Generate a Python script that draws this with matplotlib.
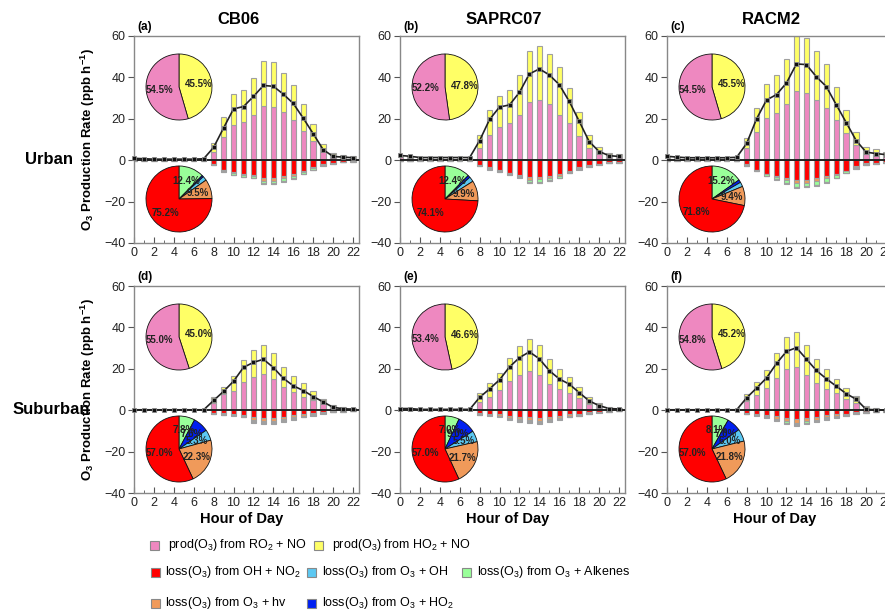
import numpy as np
import matplotlib
matplotlib.use('Agg')
import matplotlib.pyplot as plt
from matplotlib.patches import Rectangle

plt.rcParams['font.family'] = 'Liberation Sans'
plt.rcParams['mathtext.fontset'] = 'custom'
plt.rcParams['mathtext.rm'] = 'Liberation Sans'
plt.rcParams['mathtext.bf'] = 'Liberation Sans:bold'

hours = np.arange(23)

# Urban, CB06
a_ro2 = [0.6, 0.5, 0.4, 0.4, 0.4, 0.4, 0.4, 0.5, 4.2, 11.0, 17.1, 18.5, 21.6, 26.2, 25.9, 23.2, 19.6, 14.3, 9.2, 4.5, 2.1, 1.3, 1.0]
a_ho2 = [0.5, 0.4, 0.3, 0.3, 0.3, 0.3, 0.3, 0.4, 4.3, 10.1, 14.8, 15.5, 18.0, 21.5, 21.4, 19.0, 16.8, 12.8, 8.2, 3.2, 1.6, 1.3, 1.0]
a_oh_no2 = [0.1, 0.1, 0.1, 0.1, 0.1, 0.1, 0.1, 0.1, 1.9, 4.6, 5.9, 6.6, 7.0, 8.6, 8.5, 7.6, 6.8, 5.2, 3.5, 1.9, 1.3, 0.8, 0.6]
a_hv = [0, 0, 0, 0, 0, 0, 0, 0, 0.1, 0.3, 0.5, 0.6, 0.8, 1.3, 1.4, 1.2, 0.9, 0.6, 0.3, 0.1, 0.1, 0, 0]
a_alk = [0.1, 0.1, 0.1, 0.1, 0.1, 0.1, 0.1, 0.1, 0.2, 0.5, 0.6, 0.7, 0.7, 1.3, 1.3, 1.1, 1.0, 0.8, 0.7, 0.5, 0.4, 0.3, 0.2]
a_o3oh = [0, 0, 0, 0, 0, 0, 0, 0, 0.1, 0.1, 0.1, 0.1, 0.2, 0.3, 0.3, 0.3, 0.2, 0.1, 0.1, 0.1, 0.1, 0, 0]
a_o3ho2 = [0, 0, 0, 0, 0, 0, 0, 0, 0, 0, 0, 0.1, 0.1, 0.1, 0.1, 0.1, 0.1, 0.1, 0, 0, 0, 0, 0]

# Urban, SAPRC07
b_ro2 = [1.5, 1.2, 0.8, 0.8, 0.8, 0.8, 0.8, 0.8, 5.8, 12.1, 16.1, 17.9, 21.7, 28.2, 29.1, 27.1, 21.9, 17.9, 11.8, 6.0, 3.7, 2.1, 1.8]
b_ho2 = [1.2, 1.0, 0.7, 0.7, 0.7, 0.7, 0.7, 0.7, 6.3, 12.1, 15.1, 15.9, 19.5, 24.5, 26.0, 24.1, 23.3, 16.9, 11.5, 6.2, 2.6, 1.6, 1.2]
b_oh_no2 = [0.3, 0.2, 0.1, 0.1, 0.1, 0.1, 0.1, 0.1, 2.3, 3.5, 4.8, 6.0, 7.1, 8.1, 7.9, 7.4, 6.8, 5.2, 3.5, 2.3, 1.6, 1.1, 0.9]
b_hv = [0, 0, 0, 0, 0, 0, 0, 0, 0.1, 0.3, 0.2, 0.4, 0.5, 1.3, 1.4, 1.1, 0.7, 0.4, 0.3, 0.2, 0.1, 0.1, 0.1]
b_alk = [0.1, 0.1, 0.1, 0.1, 0.1, 0.1, 0.1, 0.1, 0.2, 0.5, 0.4, 0.5, 0.6, 1.2, 1.3, 1.1, 0.9, 0.6, 0.5, 0.5, 0.3, 0.2, 0.2]
b_o3oh = [0, 0, 0, 0, 0, 0, 0, 0, 0, 0.1, 0.1, 0.1, 0.1, 0.3, 0.3, 0.3, 0.2, 0.1, 0.1, 0.1, 0.1, 0.1, 0]
b_o3ho2 = [0, 0, 0, 0, 0, 0, 0, 0, 0, 0.1, 0, 0.1, 0.1, 0.1, 0.1, 0.1, 0.1, 0.1, 0.1, 0.1, 0, 0, 0]

# Urban, RACM2
c_ro2 = [1.2, 0.9, 0.7, 0.7, 0.7, 0.7, 0.7, 0.9, 5.7, 13.4, 20.5, 22.9, 27.3, 33.2, 32.7, 28.9, 25.3, 19.5, 13.2, 7.4, 3.1, 2.5, 2.2]
c_ho2 = [1.0, 0.8, 0.7, 0.7, 0.7, 0.7, 0.7, 0.8, 5.2, 11.9, 16.4, 18.2, 21.4, 26.6, 26.5, 23.7, 21.1, 16.1, 11.2, 6.2, 3.1, 2.7, 2.0]
c_oh_no2 = [0.2, 0.1, 0.1, 0.1, 0.1, 0.1, 0.1, 0.2, 2.0, 4.6, 6.5, 7.7, 8.5, 9.8, 9.4, 8.8, 7.8, 6.7, 5.0, 3.0, 1.5, 1.3, 1.0]
c_hv = [0, 0, 0, 0, 0, 0, 0, 0, 0.1, 0.1, 0.3, 0.5, 1.0, 1.4, 1.4, 1.3, 1.0, 0.6, 0.3, 0.2, 0.1, 0.1, 0.1]
c_alk = [0.1, 0.1, 0.1, 0.1, 0.1, 0.1, 0.1, 0.1, 0.6, 0.5, 0.8, 1.0, 1.4, 1.6, 1.7, 1.7, 1.6, 1.2, 0.8, 0.8, 0.6, 0.5, 0.4]
c_o3oh = [0, 0, 0, 0, 0, 0, 0, 0, 0.1, 0.1, 0.1, 0.1, 0.3, 0.3, 0.3, 0.3, 0.2, 0.2, 0.1, 0.1, 0.1, 0.1, 0]
c_o3ho2 = [0, 0, 0, 0, 0, 0, 0, 0, 0, 0, 0.1, 0.1, 0.2, 0.2, 0.2, 0.2, 0.2, 0.1, 0, 0, 0, 0, 0]

# Suburban, CB06
d_ro2 = [0.2, 0.2, 0.2, 0.2, 0.2, 0.2, 0.2, 0.2, 3.7, 7.7, 9.3, 13.4, 16.1, 17.4, 15.0, 11.4, 8.7, 6.6, 5.0, 3.5, 1.8, 0.9, 0.6]
d_ho2 = [0.1, 0.1, 0.1, 0.1, 0.1, 0.1, 0.1, 0.1, 2.9, 3.7, 7.3, 10.8, 13.0, 14.0, 12.4, 9.5, 7.6, 6.4, 4.2, 2.1, 0.6, 0.6, 0.4]
d_oh_no2 = [0.1, 0.1, 0.1, 0.1, 0.1, 0.1, 0.1, 0.1, 1.2, 1.4, 1.6, 2.2, 3.4, 3.8, 3.8, 3.1, 2.5, 2.0, 1.5, 1.0, 0.6, 0.4, 0.3]
d_hv = [0, 0, 0, 0, 0, 0, 0, 0, 0.2, 0.4, 0.5, 0.7, 1.3, 1.5, 1.5, 1.2, 1.0, 0.8, 0.5, 0.3, 0.1, 0.1, 0]
d_alk = [0, 0, 0, 0, 0, 0, 0, 0, 0.3, 0.3, 0.2, 0.3, 0.5, 0.5, 0.5, 0.4, 0.4, 0.3, 0.3, 0.2, 0.2, 0.2, 0.1]
d_o3oh = [0, 0, 0, 0, 0, 0, 0, 0, 0.1, 0.1, 0.1, 0.1, 0.3, 0.4, 0.4, 0.3, 0.2, 0.2, 0.1, 0, 0, 0, 0]
d_o3ho2 = [0, 0, 0, 0, 0, 0, 0, 0, 0.1, 0.1, 0.2, 0.2, 0.5, 0.6, 0.6, 0.5, 0.4, 0.2, 0.2, 0.1, 0.1, 0.1, 0.1]

# Suburban, SAPRC07
e_ro2 = [0.5, 0.5, 0.3, 0.3, 0.3, 0.3, 0.3, 0.3, 4.2, 6.6, 9.8, 14.0, 16.9, 18.8, 16.9, 12.6, 10.3, 8.1, 5.8, 3.2, 2.1, 1.0, 0.7]
e_ho2 = [0.4, 0.4, 0.2, 0.2, 0.2, 0.2, 0.2, 0.2, 4.3, 6.4, 8.1, 11.4, 14.0, 15.5, 14.7, 12.0, 9.5, 8.0, 5.6, 3.2, 1.3, 0.6, 0.4]
e_oh_no2 = [0.1, 0.1, 0.1, 0.1, 0.1, 0.1, 0.1, 0.1, 1.4, 1.6, 1.9, 2.6, 3.1, 3.5, 3.9, 3.1, 2.7, 2.0, 1.7, 1.1, 0.7, 0.5, 0.3]
e_hv = [0, 0, 0, 0, 0, 0, 0, 0, 0.4, 0.5, 0.7, 1.0, 1.2, 1.3, 1.5, 1.2, 1.0, 0.8, 0.6, 0.4, 0.2, 0.1, 0.1]
e_alk = [0, 0, 0, 0, 0, 0, 0, 0, 0.3, 0.3, 0.3, 0.3, 0.4, 0.4, 0.4, 0.4, 0.3, 0.3, 0.3, 0.2, 0.2, 0.1, 0.1]
e_o3oh = [0, 0, 0, 0, 0, 0, 0, 0, 0.1, 0.1, 0.1, 0.3, 0.3, 0.4, 0.4, 0.3, 0.3, 0.2, 0.1, 0.1, 0, 0, 0]
e_o3ho2 = [0, 0, 0, 0, 0, 0, 0, 0, 0.1, 0.2, 0.2, 0.3, 0.5, 0.5, 0.6, 0.5, 0.4, 0.2, 0.2, 0.1, 0.1, 0.1, 0]

# Suburban, RACM2
f_ro2 = [0.1, 0.1, 0.1, 0.1, 0.1, 0.1, 0.1, 0.1, 4.3, 7.5, 10.7, 15.5, 19.9, 21.0, 17.0, 13.1, 10.4, 8.3, 5.6, 3.5, 1.2, 0.8, 0.5]
f_ho2 = [0.1, 0.1, 0.1, 0.1, 0.1, 0.1, 0.1, 0.1, 3.7, 5.9, 8.5, 12.3, 15.4, 16.9, 14.6, 11.8, 9.3, 6.9, 5.2, 3.5, 0.6, 0.4, 0.3]
f_oh_no2 = [0, 0, 0, 0, 0, 0, 0, 0, 1.3, 1.6, 2.1, 3.0, 3.9, 4.4, 3.9, 3.2, 2.5, 2.0, 1.6, 1.0, 0.8, 0.6, 0.5]
f_hv = [0, 0, 0, 0, 0, 0, 0, 0, 0.3, 0.5, 0.7, 1.1, 1.5, 1.7, 1.5, 1.3, 1.0, 0.8, 0.6, 0.3, 0.2, 0.1, 0.1]
f_alk = [0, 0, 0, 0, 0, 0, 0, 0, 0.2, 0.3, 0.4, 0.5, 0.6, 0.6, 0.6, 0.5, 0.4, 0.3, 0.3, 0.2, 0.2, 0.2, 0.1]
f_o3oh = [0, 0, 0, 0, 0, 0, 0, 0, 0.1, 0.1, 0.2, 0.3, 0.4, 0.4, 0.4, 0.3, 0.3, 0.2, 0.1, 0.1, 0.1, 0, 0]
f_o3ho2 = [0, 0, 0, 0, 0, 0, 0, 0, 0.1, 0.2, 0.2, 0.3, 0.5, 0.6, 0.5, 0.4, 0.3, 0.3, 0.2, 0.1, 0.1, 0.1, 0.1]

# pie shares (%): production [HO2+NO, RO2+NO]; loss [alkenes, O3+HO2, O3+OH, hv, OH+NO2]
prod_pie = {'a': [45.5, 54.5], 'b': [47.8, 52.2], 'c': [45.5, 54.5],
            'd': [45.0, 55.0], 'e': [46.6, 53.4], 'f': [45.2, 54.8]}
loss_pie = {'a': [12.4, 0.8, 2.1, 9.5, 75.2], 'b': [12.4, 1.2, 2.4, 9.9, 74.1],
            'c': [15.2, 1.4, 2.2, 9.4, 71.8], 'd': [7.8, 7.6, 5.3, 22.3, 57.0],
            'e': [7.0, 9.0, 5.5, 21.7, 57.0], 'f': [8.1, 7.0, 6.0, 21.8, 57.0]}

mechanisms = ['CB06', 'SAPRC07', 'RACM2']

PINK = '#EE88C0'
YELLOW = '#FFFF66'
RED = '#FF0000'
LBLUE = '#5CC8F2'
GREEN = '#99FF99'
ORANGE = '#F09A5A'
BLUE = '#0020F0'
EDGE = '#A0A0A0'

W, H = 885, 610
fig = plt.figure(figsize=(W / 100, H / 100), dpi=100)

lefts = [134, 400, 667]
tops = [36, 286]
ax_w, ax_h = 225, 207

data = {
    'a': (a_ro2, a_ho2, a_oh_no2, a_hv, a_alk, a_o3oh, a_o3ho2),
    'b': (b_ro2, b_ho2, b_oh_no2, b_hv, b_alk, b_o3oh, b_o3ho2),
    'c': (c_ro2, c_ho2, c_oh_no2, c_hv, c_alk, c_o3oh, c_o3ho2),
    'd': (d_ro2, d_ho2, d_oh_no2, d_hv, d_alk, d_o3oh, d_o3ho2),
    'e': (e_ro2, e_ho2, e_oh_no2, e_hv, e_alk, e_o3oh, e_o3ho2),
    'f': (f_ro2, f_ho2, f_oh_no2, f_hv, f_alk, f_o3oh, f_o3ho2),
}
keys = [['a', 'b', 'c'], ['d', 'e', 'f']]


def fig_box(x, y, w, h):
    return [x / W, 1 - (y + h) / H, w / W, h / H]


for r in range(2):
    for c in range(3):
        k = keys[r][c]
        ro2, ho2, oh_no2, hv, alk, o3oh, o3ho2 = [np.array(v, dtype=float) for v in data[k]]
        ax = fig.add_axes(fig_box(lefts[c], tops[r], ax_w, ax_h))
        bw = 0.55
        ax.bar(hours, ro2, bw, color=PINK, edgecolor=EDGE, linewidth=0.8, zorder=2)
        ax.bar(hours, ho2, bw, bottom=ro2, color=YELLOW, edgecolor=EDGE, linewidth=0.8, zorder=2)
        cum = np.zeros(len(hours))
        for arr, col in [(oh_no2, RED), (hv, ORANGE), (alk, GREEN), (o3oh, LBLUE), (o3ho2, BLUE)]:
            ax.bar(hours, -arr, bw, bottom=-cum, color=col, edgecolor=EDGE, linewidth=0.8, zorder=2)
            cum = cum + arr
        net = ro2 + ho2 - cum
        ax.axhline(0, color='#222222', lw=1.4, zorder=3)
        ax.plot(hours, net, color='#222222', lw=1.2, marker='s', ms=3.2,
                mfc='#111111', mec='#888888', mew=0.6, zorder=4, clip_on=False)
        ax.set_xlim(0, 22.6)
        ax.set_ylim(-40, 60)
        ax.set_xticks(range(0, 23, 2))
        ax.set_xticks(range(0, 23), minor=True)
        ax.set_yticks([-40, -20, 0, 20, 40, 60])
        ax.tick_params(axis='x', which='major', direction='in', length=4, labelsize=9, pad=3, colors='#555555', labelcolor='#222222')
        ax.tick_params(axis='x', which='minor', direction='in', length=2, colors='#555555')
        ax.tick_params(axis='y', direction='out', length=4, labelsize=9, pad=2, colors='#555555', labelcolor='#222222')
        for s in ax.spines.values():
            s.set_color('#888888')
            s.set_linewidth(1.0)
        if c == 0:
            ax.set_ylabel(r'O$_\mathbf{3}$ Production Rate (ppb h$^{\mathbf{-1}}$)',
                          fontsize=9.5, fontweight='bold')
            ax.yaxis.set_label_coords(-(134 - 97) / ax_w, 0.5)
        if r == 1:
            fig.text((lefts[c] + 108) / W, 1 - 519 / H, 'Hour of Day', ha='center', va='center',
                     fontsize=10.5, fontweight='bold')
        else:
            fig.text((lefts[c] + 104) / W, 1 - 20 / H, mechanisms[c], ha='center', va='center',
                     fontsize=12, fontweight='bold')
        fig.text((lefts[c] + 3) / W, 1 - (tops[r] - 9) / H, f'({k})', ha='left', va='center',
                 fontsize=8.5, fontweight='bold')

        # inset pies
        cx = lefts[c] + 45
        for cy, vals, cols in [(tops[r] + 51, prod_pie[k], [YELLOW, PINK]),
                               (tops[r] + 163, loss_pie[k], [GREEN, BLUE, LBLUE, ORANGE, RED])]:
            pax = fig.add_axes(fig_box(cx - 34, cy - 34, 68, 68))
            labels = [f'{v:.1f}%' if v >= 5 else '' for v in vals]
            wedges, texts = pax.pie(
                vals, colors=cols, startangle=90, counterclock=False,
                labels=labels, labeldistance=0.6,
                wedgeprops=dict(edgecolor='#111111', linewidth=0.6),
                textprops=dict(fontsize=7, fontweight='bold', color='#222222'))
            for t in texts:
                t.set_ha('center')
                t.set_va('center')
            pax.set_xlim(-1.03, 1.03)
            pax.set_ylim(-1.03, 1.03)
            pax.set_aspect('equal')

fig.text(49 / W, 1 - 159 / H, 'Urban', ha='center', va='center', fontsize=12, fontweight='bold')
fig.text(51 / W, 1 - 409 / H, 'Suburban', ha='center', va='center', fontsize=12, fontweight='bold')

# legend
legend_items = [
    (150, 545, PINK, r'prod(O$_3$) from RO$_2$ + NO', 168),
    (314, 545, YELLOW, r'prod(O$_3$) from HO$_2$ + NO', 332),
    (151, 572, RED, r'loss(O$_3$) from OH + NO$_2$', 165),
    (307, 572, LBLUE, r'loss(O$_3$) from O$_3$ + OH', 322),
    (462, 572, GREEN, r'loss(O$_3$) from O$_3$ + Alkenes', 477),
    (151, 603, ORANGE, r'loss(O$_3$) from O$_3$ + hv', 165),
    (307, 603, BLUE, r'loss(O$_3$) from O$_3$ + HO$_2$', 322),
]
for sx, sy, col, label, tx in legend_items:
    fig.add_artist(Rectangle((sx / W, 1 - (sy + 4.5) / H), 9 / W, 9 / H, transform=fig.transFigure,
                             facecolor=col, edgecolor='#888888', linewidth=0.8))
    fig.text(tx / W, 1 - sy / H, label, ha='left', va='center', fontsize=9)

fig.savefig('out.png', dpi=100)
